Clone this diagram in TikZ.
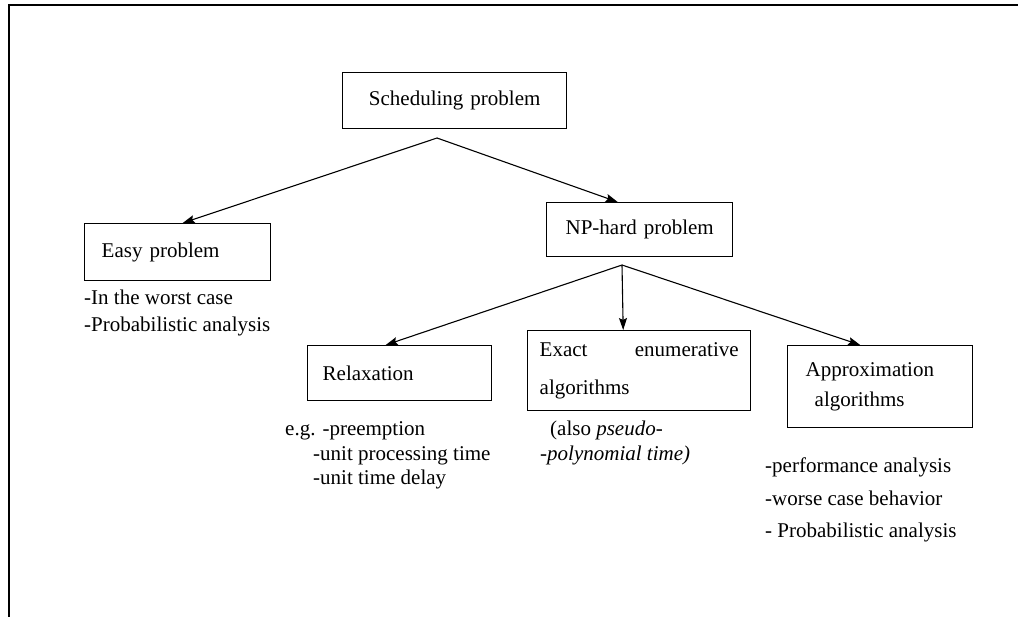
\documentclass[tikz,border=0pt]{standalone}
\usepackage{fontspec}
\setmainfont{Liberation Serif}
\usetikzlibrary{arrows.meta}
\begin{document}
\begin{tikzpicture}[x=1pt,y=-1pt,
  every node/.style={font=\fontsize{21}{25}\selectfont},
  box/.style={draw, line width=1.4pt, anchor=north west, inner ysep=0pt, inner xsep=0pt},
  note/.style={anchor=base west, inner sep=0pt},
  arr/.style={line width=1.1pt, -{Stealth[length=12pt,width=8pt,inset=2pt]}}]
\useasboundingbox (0,0) rectangle (1018,617);
\draw[line width=1.4pt] (9,617) -- (9,5) -- (1018,5);

\node[box, minimum width=224pt, minimum height=56pt, text width=200pt, align=center] (sched) at (342,72) {Scheduling problem};
\node[box, minimum width=186pt, minimum height=57pt, text width=152pt, align=left] (easy) at (84,223) {Easy problem};
\node[box, minimum width=186pt, minimum height=54pt, text width=170pt, align=center] (np) at (546,202) {NP-hard problem};
\node[box, minimum width=184pt, minimum height=55pt, text width=154pt, align=left] (relax) at (307,345) {Relaxation};
\node[box, minimum width=223pt, minimum height=80pt, text width=199pt, align=left,
  font=\fontsize{21}{38}\selectfont] (exact) at (527,330) {\hbox to 199pt{Exact\hfill enumerative}\\algorithms};
\node[box, minimum width=185pt, minimum height=82pt, text width=149pt, align=left,
  font=\fontsize{21}{30}\selectfont] (approx) at (787,345) {Approximation\\\hspace*{9pt}algorithms};

\coordinate (f1) at (437,138);
\coordinate (f2) at (622,265);
\draw[arr] (f1) -- ([xshift=5pt]easy.north);
\draw[arr] (f1) -- ([xshift=-22pt]np.north);
\draw[arr] (f2) -- ([xshift=-14pt]relax.north);
\draw[arr] (f2) -- ([xshift=-16pt]exact.north);
\draw[arr] (f2) -- ([xshift=-20pt]approx.north);

\node[note] (e1) at (84,305) {-In the worst case};
\node[note] (e2) at (84,332) {-Probabilistic analysis};
\node[note] (r1) at (285,436) {e.g. -preemption};
\node[note] (r2) at (313,461) {-unit processing time};
\node[note] (r3) at (313,485) {-unit time delay};
\node[note] (x1) at (550,436) {(also \textit{pseudo-}};
\node[note] (x2) at (540,461) {\textit{-polynomial time)}};
\node[note] (a1) at (765,473) {-performance analysis};
\node[note] (a2) at (765,506) {-worse case behavior};
\node[note] (a3) at (765,537) {- Probabilistic analysis};
\end{tikzpicture}
\end{document}
